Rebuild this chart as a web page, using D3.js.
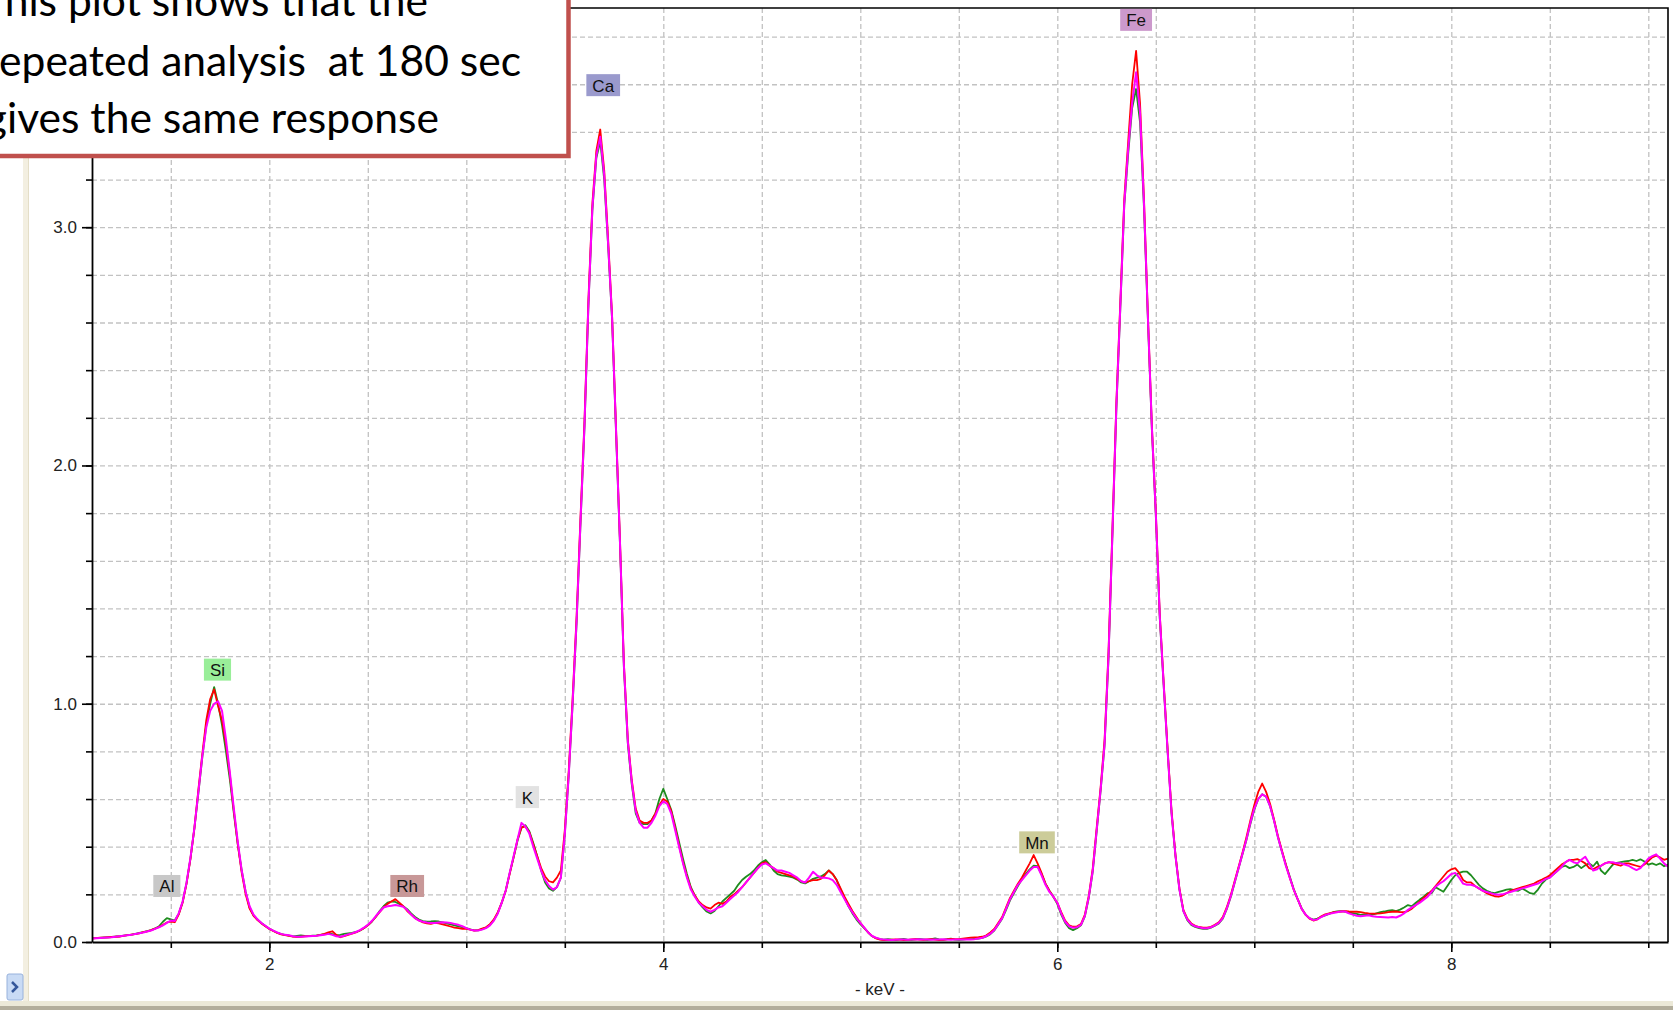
<!DOCTYPE html>
<html>
<head>
<meta charset="utf-8">
<script src="https://cdn.jsdelivr.net/npm/d3@7"></script>
<style>
  body { margin: 0; background: #fff; overflow: hidden; }
  text { font-family: "Liberation Sans", Arial, sans-serif; }
</style>
</head>
<body>
<svg id="chart" width="1673" height="1010"></svg>
<script>
// spectrum channels: first channel energy and channel width (keV)
const startKeV = 1.10
const stepKeV = 0.02

// three repeated runs, one value per channel (1.10 .. 9.10 keV)
const green = [
  0.016,0.016,0.017,0.019,0.019,0.021,0.023,0.024,0.027,0.029,
  0.031,0.034,0.038,0.041,0.046,0.050,0.057,0.066,0.085,0.100,
  0.095,0.090,0.118,0.168,0.248,0.352,0.478,0.625,0.775,0.910,
  1.000,1.070,1.000,0.910,0.800,0.680,0.540,0.410,0.300,0.210,
  0.145,0.112,0.094,0.080,0.067,0.056,0.047,0.039,0.033,0.030,
  0.027,0.024,0.026,0.028,0.026,0.025,0.027,0.028,0.030,0.033,
  0.036,0.033,0.028,0.030,0.034,0.036,0.038,0.042,0.048,0.058,
  0.070,0.085,0.105,0.130,0.150,0.165,0.170,0.168,0.160,0.150,
  0.138,0.120,0.105,0.094,0.088,0.085,0.086,0.088,0.086,0.082,
  0.078,0.074,0.070,0.066,0.062,0.058,0.053,0.049,0.049,0.054,
  0.060,0.072,0.092,0.122,0.165,0.215,0.288,0.355,0.425,0.480,
  0.490,0.465,0.415,0.360,0.300,0.250,0.225,0.215,0.230,0.270,
  0.450,0.700,1.000,1.340,1.760,2.160,2.670,3.070,3.290,3.360,
  3.200,2.920,2.610,2.140,1.670,1.150,0.830,0.660,0.540,0.500,
  0.495,0.495,0.510,0.540,0.600,0.643,0.600,0.555,0.490,0.420,
  0.350,0.285,0.230,0.195,0.165,0.145,0.128,0.120,0.130,0.150,
  0.170,0.185,0.200,0.215,0.240,0.260,0.274,0.285,0.300,0.320,
  0.335,0.344,0.325,0.300,0.285,0.280,0.278,0.274,0.270,0.262,
  0.250,0.246,0.255,0.265,0.270,0.275,0.285,0.300,0.285,0.260,
  0.220,0.185,0.150,0.120,0.095,0.075,0.058,0.040,0.024,0.016,
  0.012,0.010,0.012,0.010,0.008,0.011,0.013,0.010,0.009,0.011,
  0.013,0.011,0.009,0.012,0.015,0.011,0.009,0.012,0.014,0.010,
  0.009,0.010,0.012,0.012,0.013,0.014,0.017,0.023,0.033,0.048,
  0.072,0.098,0.135,0.175,0.205,0.235,0.262,0.285,0.305,0.320,
  0.318,0.285,0.245,0.215,0.190,0.160,0.115,0.080,0.058,0.050,
  0.058,0.070,0.108,0.185,0.295,0.465,0.635,0.825,1.190,1.710,
  2.240,2.660,3.090,3.310,3.500,3.580,3.440,3.080,2.610,2.150,
  1.790,1.360,1.075,0.800,0.540,0.360,0.220,0.130,0.092,0.072,
  0.063,0.058,0.055,0.055,0.060,0.068,0.078,0.098,0.138,0.188,
  0.248,0.308,0.368,0.428,0.495,0.555,0.600,0.620,0.610,0.570,
  0.510,0.440,0.380,0.325,0.275,0.222,0.180,0.142,0.115,0.100,
  0.094,0.098,0.106,0.112,0.118,0.125,0.128,0.130,0.128,0.125,
  0.120,0.118,0.114,0.116,0.118,0.115,0.120,0.125,0.128,0.132,
  0.134,0.130,0.136,0.145,0.155,0.150,0.165,0.178,0.190,0.205,
  0.205,0.230,0.220,0.211,0.235,0.260,0.280,0.290,0.295,0.295,
  0.280,0.260,0.240,0.225,0.215,0.208,0.205,0.210,0.215,0.220,
  0.222,0.218,0.215,0.225,0.215,0.205,0.202,0.220,0.245,0.262,
  0.272,0.285,0.300,0.315,0.320,0.310,0.315,0.325,0.310,0.322,
  0.330,0.318,0.337,0.300,0.285,0.305,0.325,0.332,0.335,0.338,
  0.340,0.345,0.340,0.347,0.338,0.325,0.330,0.323,0.330,0.318,
  0.325
]

const red = [
  0.014,0.016,0.018,0.018,0.020,0.021,0.022,0.023,0.026,0.029,
  0.031,0.033,0.036,0.041,0.045,0.050,0.056,0.063,0.072,0.082,
  0.086,0.083,0.115,0.165,0.245,0.350,0.480,0.640,0.790,0.930,
  1.020,1.060,0.990,0.930,0.830,0.700,0.550,0.410,0.290,0.200,
  0.140,0.110,0.092,0.078,0.066,0.055,0.046,0.038,0.032,0.029,
  0.026,0.023,0.021,0.022,0.024,0.025,0.026,0.027,0.030,0.034,
  0.040,0.045,0.030,0.020,0.025,0.030,0.035,0.040,0.048,0.058,
  0.070,0.086,0.105,0.125,0.145,0.160,0.170,0.180,0.165,0.150,
  0.130,0.115,0.100,0.090,0.082,0.078,0.076,0.080,0.078,0.074,
  0.070,0.065,0.060,0.058,0.055,0.055,0.052,0.048,0.050,0.056,
  0.062,0.075,0.095,0.125,0.165,0.215,0.285,0.355,0.430,0.480,
  0.485,0.460,0.410,0.360,0.310,0.275,0.255,0.250,0.270,0.300,
  0.470,0.720,1.030,1.370,1.790,2.190,2.700,3.100,3.320,3.410,
  3.240,2.950,2.630,2.160,1.690,1.170,0.850,0.680,0.560,0.510,
  0.500,0.500,0.510,0.540,0.575,0.600,0.590,0.550,0.480,0.405,
  0.335,0.275,0.225,0.195,0.170,0.155,0.145,0.140,0.155,0.165,
  0.160,0.170,0.190,0.200,0.215,0.230,0.250,0.270,0.290,0.310,
  0.330,0.335,0.320,0.310,0.295,0.290,0.285,0.280,0.275,0.265,
  0.255,0.250,0.255,0.260,0.260,0.265,0.280,0.300,0.285,0.260,
  0.225,0.190,0.160,0.130,0.105,0.080,0.060,0.040,0.025,0.015,
  0.010,0.008,0.009,0.010,0.011,0.010,0.008,0.009,0.011,0.012,
  0.010,0.009,0.011,0.012,0.010,0.008,0.009,0.011,0.013,0.012,
  0.012,0.014,0.016,0.018,0.019,0.020,0.022,0.028,0.040,0.055,
  0.080,0.105,0.145,0.185,0.215,0.245,0.270,0.300,0.330,0.365,
  0.330,0.290,0.245,0.215,0.190,0.165,0.125,0.090,0.070,0.064,
  0.066,0.075,0.115,0.195,0.310,0.480,0.650,0.850,1.220,1.740,
  2.270,2.690,3.120,3.360,3.600,3.740,3.520,3.120,2.630,2.170,
  1.810,1.380,1.090,0.810,0.550,0.365,0.225,0.135,0.098,0.078,
  0.068,0.063,0.060,0.060,0.064,0.072,0.083,0.105,0.145,0.195,
  0.255,0.315,0.375,0.440,0.510,0.575,0.630,0.665,0.630,0.580,
  0.515,0.445,0.385,0.325,0.270,0.220,0.180,0.140,0.115,0.098,
  0.090,0.095,0.108,0.116,0.120,0.124,0.126,0.128,0.130,0.128,
  0.127,0.127,0.125,0.122,0.120,0.119,0.119,0.120,0.122,0.125,
  0.127,0.128,0.125,0.125,0.130,0.140,0.155,0.170,0.185,0.200,
  0.215,0.235,0.255,0.275,0.295,0.305,0.310,0.290,0.260,0.250,
  0.250,0.235,0.225,0.215,0.205,0.198,0.192,0.190,0.195,0.205,
  0.215,0.220,0.225,0.230,0.235,0.240,0.245,0.255,0.262,0.270,
  0.280,0.295,0.310,0.325,0.335,0.345,0.345,0.348,0.340,0.330,
  0.310,0.305,0.315,0.320,0.330,0.335,0.330,0.325,0.320,0.330,
  0.330,0.325,0.320,0.315,0.325,0.340,0.355,0.362,0.355,0.345,
  0.350
]

const magenta = [
  0.015,0.016,0.017,0.018,0.019,0.020,0.022,0.024,0.026,0.028,
  0.030,0.034,0.037,0.040,0.044,0.048,0.055,0.062,0.070,0.080,
  0.090,0.088,0.120,0.170,0.250,0.355,0.480,0.630,0.780,0.900,
  0.970,1.000,1.010,0.970,0.850,0.710,0.560,0.420,0.300,0.210,
  0.150,0.115,0.095,0.080,0.068,0.056,0.048,0.040,0.034,0.030,
  0.028,0.024,0.022,0.022,0.023,0.024,0.025,0.026,0.028,0.030,
  0.034,0.030,0.024,0.022,0.026,0.032,0.036,0.042,0.050,0.060,
  0.072,0.088,0.108,0.127,0.145,0.150,0.152,0.155,0.152,0.148,
  0.134,0.115,0.100,0.090,0.085,0.082,0.080,0.080,0.082,0.083,
  0.082,0.080,0.076,0.072,0.066,0.058,0.052,0.048,0.048,0.052,
  0.058,0.070,0.090,0.120,0.165,0.215,0.290,0.360,0.430,0.500,
  0.485,0.455,0.400,0.350,0.300,0.260,0.235,0.220,0.230,0.270,
  0.450,0.700,1.010,1.350,1.770,2.170,2.680,3.080,3.300,3.380,
  3.220,2.930,2.620,2.150,1.680,1.160,0.840,0.670,0.550,0.500,
  0.480,0.480,0.500,0.530,0.570,0.590,0.580,0.540,0.470,0.400,
  0.330,0.270,0.220,0.190,0.165,0.150,0.135,0.127,0.135,0.145,
  0.150,0.165,0.180,0.195,0.210,0.230,0.250,0.270,0.290,0.310,
  0.325,0.330,0.320,0.310,0.300,0.300,0.295,0.290,0.280,0.270,
  0.255,0.250,0.270,0.295,0.280,0.270,0.270,0.267,0.260,0.240,
  0.210,0.180,0.150,0.125,0.100,0.080,0.060,0.040,0.025,0.018,
  0.013,0.010,0.009,0.008,0.009,0.010,0.010,0.009,0.010,0.011,
  0.012,0.011,0.010,0.009,0.010,0.011,0.012,0.010,0.009,0.010,
  0.011,0.010,0.010,0.011,0.012,0.015,0.018,0.025,0.035,0.050,
  0.075,0.100,0.140,0.180,0.210,0.240,0.260,0.280,0.300,0.315,
  0.315,0.280,0.240,0.210,0.190,0.165,0.120,0.085,0.066,0.060,
  0.062,0.072,0.110,0.190,0.300,0.470,0.640,0.830,1.200,1.720,
  2.250,2.670,3.100,3.330,3.520,3.650,3.480,3.100,2.620,2.160,
  1.800,1.370,1.080,0.800,0.540,0.360,0.220,0.130,0.095,0.075,
  0.066,0.062,0.058,0.058,0.062,0.070,0.080,0.100,0.140,0.190,
  0.250,0.310,0.370,0.430,0.500,0.560,0.600,0.620,0.610,0.570,
  0.510,0.440,0.380,0.320,0.270,0.220,0.180,0.140,0.115,0.100,
  0.092,0.095,0.105,0.113,0.118,0.122,0.125,0.128,0.128,0.120,
  0.115,0.110,0.108,0.110,0.112,0.108,0.106,0.105,0.104,0.103,
  0.105,0.103,0.110,0.120,0.135,0.145,0.155,0.165,0.178,0.190,
  0.210,0.232,0.245,0.255,0.270,0.285,0.290,0.270,0.245,0.240,
  0.240,0.235,0.225,0.215,0.210,0.205,0.200,0.198,0.200,0.205,
  0.210,0.215,0.220,0.225,0.230,0.235,0.240,0.245,0.255,0.265,
  0.270,0.285,0.300,0.315,0.335,0.345,0.335,0.330,0.345,0.358,
  0.330,0.300,0.305,0.320,0.330,0.335,0.335,0.330,0.330,0.325,
  0.320,0.310,0.302,0.310,0.330,0.350,0.360,0.368,0.350,0.330,
  0.316
]

const seriesColors = ['#1e8c1e', '#ff0000', '#ff00ff']

// axis ticks
const xMinorTicks = [1.5, 2, 2.5, 3, 3.5, 4, 4.5, 5, 5.5, 6, 6.5, 7, 7.5, 8, 8.5, 9]
const xMajorTicks = [2, 4, 6, 8]
const yMinorTicks = [0, 0.2, 0.4, 0.6, 0.8, 1, 1.2, 1.4, 1.6, 1.8, 2, 2.2, 2.4, 2.6, 2.8, 3, 3.2, 3.4, 3.6, 3.8]
const yMajorTicks = [0, 1, 2, 3]

// element tags: name, line energy (keV), count level at the tag's lower edge, colour
const peakNames = ['Al', 'Si', 'Rh', 'K', 'Ca', 'Mn', 'Fe']
const peakKeV = [1.48, 1.737, 2.70, 3.31, 3.695, 5.897, 6.40]
const peakLevel = [0.189, 1.097, 0.189, 0.562, 3.55, 0.372, 3.824]
const peakColors = ['#c8c8c8', '#99ee99', '#c89898', '#e2e2e2', '#9a9acd', '#cccc99', '#cc99cc']

const noteLines = ['This plot shows that the', 'repeated analysis  at 180 sec', 'gives the same response']


const svg = d3.select('#chart')
const W = 1673, H = 1010

const x = d3.scaleLinear().domain([1.1, 9.1]).range([92, 1668])
const y = d3.scaleLinear().domain([0, 3.92]).range([942, 8])
const plotW = x.range()[1] - x.range()[0]
const plotH = y.range()[0] - y.range()[1]

const channels = magenta.map((_, i) => startKeV + i * stepKeV)

svg.append('rect').attr('width', W).attr('height', H).attr('fill', '#fff')

// window chrome on the left and bottom
svg.append('rect').attr('x', 23).attr('y', 0).attr('width', 6).attr('height', 1002).attr('fill', '#f3efe1')
svg.append('line').attr('x1', 28.5).attr('x2', 28.5).attr('y1', 0).attr('y2', 1002).attr('stroke', '#e4dec8')
svg.append('rect').attr('x', 0).attr('y', 1001).attr('width', W).attr('height', 5).attr('fill', '#ece9d8')
svg.append('rect').attr('x', 0).attr('y', 1006).attr('width', W).attr('height', 4).attr('fill', '#b3ae9c')

const btn = svg.append('g').attr('transform', 'translate(7,974)')
btn.append('rect').attr('width', 16).attr('height', 26).attr('rx', 2)
  .attr('fill', '#c9dbf5').attr('stroke', '#98b2dc')
btn.append('path').attr('d', 'M5,8 L10,13 L5,18').attr('fill', 'none')
  .attr('stroke', '#34579a').attr('stroke-width', 2.5)

// grid
const gridStyle = g => g.call(g => g.select('.domain').remove())
  .selectAll('line').attr('stroke', '#c2c2c2').attr('stroke-width', 1.3).attr('stroke-dasharray', '5,3')

svg.append('g')
  .attr('transform', `translate(${x.range()[0]},0)`)
  .call(d3.axisLeft(y).tickValues(yMinorTicks.filter(d => d > 0)).tickSize(-plotW).tickFormat(''))
  .call(gridStyle)

svg.append('g')
  .attr('transform', `translate(0,${y.range()[1]})`)
  .call(d3.axisBottom(x).tickValues(xMinorTicks).tickSize(plotH).tickFormat(''))
  .call(gridStyle)

// spectra
svg.append('clipPath').attr('id', 'plot-clip')
  .append('rect').attr('x', x.range()[0]).attr('y', y.range()[1])
  .attr('width', plotW).attr('height', plotH + 2)

const line = d3.line()
  .x((d, i) => x(channels[i]))
  .y(d => y(d))

svg.append('g').attr('clip-path', 'url(#plot-clip)')
  .selectAll('path')
  .data([green, red, magenta])
  .join('path')
  .attr('d', line)
  .attr('fill', 'none')
  .attr('stroke', (d, i) => seriesColors[i])
  .attr('stroke-width', (d, i) => i == 2 ? 2 : 1.8)
  .attr('stroke-linejoin', 'round')

// frame (top and right)
svg.append('path')
  .attr('d', `M${x.range()[0]},${y.range()[1]}H${x.range()[1]}V${y.range()[0]}`)
  .attr('fill', 'none').attr('stroke', '#000').attr('stroke-width', 1.6)

// axes
const axisStyle = g => {
  g.selectAll('line').attr('stroke', '#000').attr('stroke-width', 1.6)
  g.selectAll('.domain').attr('stroke', '#000').attr('stroke-width', 1.8)
  g.selectAll('text').attr('fill', '#222').style('font-size', '17px')
    .style('font-family', '"Liberation Sans", Arial, sans-serif')
}

svg.append('g').attr('transform', `translate(0,${y.range()[0]})`)
  .call(d3.axisBottom(x).tickValues(xMinorTicks).tickSize(6).tickSizeOuter(0).tickFormat(''))
  .call(axisStyle)
svg.append('g').attr('transform', `translate(0,${y.range()[0]})`)
  .call(d3.axisBottom(x).tickValues(xMajorTicks).tickSize(10).tickSizeOuter(0).tickPadding(6).tickFormat(d3.format('d')))
  .call(g => g.select('.domain').remove())
  .call(axisStyle)

svg.append('g').attr('transform', `translate(${x.range()[0]},0)`)
  .call(d3.axisLeft(y).tickValues(yMinorTicks).tickSize(6).tickSizeOuter(0).tickFormat(''))
  .call(axisStyle)
svg.append('g').attr('transform', `translate(${x.range()[0]},0)`)
  .call(d3.axisLeft(y).tickValues(yMajorTicks).tickSize(10).tickSizeOuter(0).tickPadding(5).tickFormat(d3.format('.1f')))
  .call(g => g.select('.domain').remove())
  .call(axisStyle)

svg.append('text')
  .attr('x', (x.range()[0] + x.range()[1]) / 2).attr('y', 995)
  .attr('text-anchor', 'middle').attr('fill', '#222')
  .style('font-size', '17px')
  .text('- keV -')

// element tags
peakNames.forEach((name, i) => {
  const g = svg.append('g').attr('transform', `translate(${x(peakKeV[i])},${y(peakLevel[i])})`)
  const t = g.append('text').attr('text-anchor', 'middle').attr('y', -4.5)
    .attr('fill', '#111').style('font-size', '17px').text(name)
  const tw = t.node().getComputedTextLength()
  g.insert('rect', 'text')
    .attr('x', -tw / 2 - 6).attr('y', -22)
    .attr('width', tw + 12).attr('height', 22)
    .attr('fill', peakColors[i])
})

// note box laid over the top-left corner
const note = svg.append('g')
note.append('rect')
  .attr('x', -20).attr('y', -20).attr('width', 588.5).attr('height', 176)
  .attr('fill', '#fff').attr('stroke', '#c0504d').attr('stroke-width', 4.5)

const probe = note.append('text').style('font-family', 'Lato').style('font-size', '46px')
  .style('white-space', 'pre').text(noteLines[1].slice(1))
const noteSize = 46 * 522 / probe.node().getComputedTextLength()
probe.remove()

const noteRight = [428, 521, 439]
const noteBase = [16, 75.5, 133]
note.selectAll('text.note')
  .data(noteLines)
  .join('text')
  .attr('class', 'note')
  .attr('x', (d, i) => noteRight[i])
  .attr('y', (d, i) => noteBase[i])
  .attr('text-anchor', 'end')
  .attr('fill', '#000')
  .style('font-family', 'Lato')
  .style('font-size', noteSize + 'px')
  .style('white-space', 'pre')
  .text(d => d)
</script>
</body>
</html>
